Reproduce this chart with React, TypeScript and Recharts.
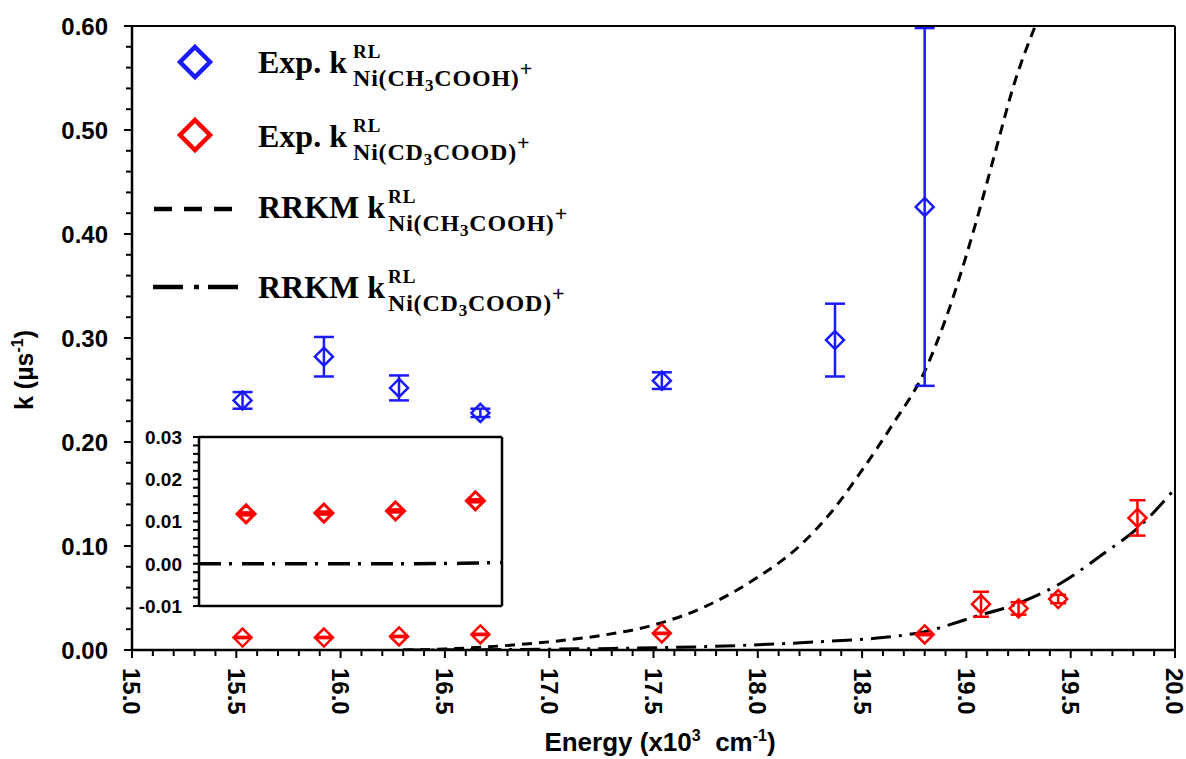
import React from 'react';
import { ComposedChart, Scatter, Line, XAxis, YAxis, ErrorBar } from 'recharts';

// Experimental k(RL) for Ni(CH3COOH)+
const expEnergyH = [15.53, 15.92, 16.28, 16.67, 17.54, 18.37, 18.8];
const expKH = [0.24, 0.282, 0.252, 0.228, 0.259, 0.298, 0.426];
const expErrH = [0.008, 0.019, 0.012, 0.004, 0.008, 0.035, 0.172];

// Experimental k(RL) for Ni(CD3COOD)+
const expEnergyD = [15.53, 15.92, 16.28, 16.67, 17.54, 18.8, 19.07, 19.25, 19.44, 19.82];
const expKD = [0.012, 0.012, 0.013, 0.015, 0.016, 0.015, 0.044, 0.04, 0.049, 0.127];
const expErrD = [0.0006, 0.0006, 0.0006, 0.0006, 0.0006, 0.0008, 0.012, 0.006, 0.004, 0.017];

// RRKM curves
const rrkmEnergyH = [16.3, 16.5, 16.7, 16.9, 17.1, 17.25, 17.5, 17.75, 18.0, 18.2, 18.35, 18.5, 18.65, 18.8, 18.9, 19.03, 19.14, 19.23, 19.33];
const rrkmKH = [0, 0.001, 0.003, 0.006, 0.01, 0.014, 0.024, 0.042, 0.07, 0.1, 0.132, 0.173, 0.218, 0.268, 0.318, 0.4, 0.48, 0.545, 0.6];
const rrkmEnergyD = [16.3, 16.8, 17.3, 17.7, 18.0, 18.3, 18.6, 18.8, 19.04, 19.25, 19.45, 19.66, 19.82, 20.0];
const rrkmKD = [0, 0.0005, 0.0015, 0.003, 0.005, 0.008, 0.012, 0.0176, 0.032, 0.045, 0.064, 0.093, 0.117, 0.155];

// Inset (zoom on the low-energy CD3COOD points)
const insetEnergy = [15.55, 15.93, 16.28, 16.67];
const insetK = [0.0118, 0.012, 0.0125, 0.0149];
const insetErr = [0.0003, 0.0003, 0.0003, 0.0003];
const insetCurveEnergy = [15.32, 15.8, 16.3, 16.6, 16.8];
const insetCurveK = [0, 0, 0, 0.0001, 0.0003];

// Axis ticks
const xTicks = Array.from({ length: 51 }, (_, i) => +(15 + i * 0.1).toFixed(1));
const yTicks = Array.from({ length: 31 }, (_, i) => +(i * 0.02).toFixed(2));
const insetYTicks = Array.from({ length: 21 }, (_, i) => +(-0.01 + i * 0.002).toFixed(3));

// Legend
const legendPrefix = ['Exp.', 'Exp.', 'RRKM', 'RRKM'];
const legendSpecies = [
  ['Ni(CH', '3', 'COOH)'],
  ['Ni(CD', '3', 'COOD)'],
  ['Ni(CH', '3', 'COOH)'],
  ['Ni(CD', '3', 'COOD)'],
];

const W = 1186;
const H = 759;
const BLUE = '#1a1aff';
const RED = '#ff0000';
const SANS = '"Liberation Sans", Arial, sans-serif';
const SERIF = '"Liberation Serif", "Times New Roman", serif';

const toPoints = (xs: number[], ys: number[], es?: number[]) =>
  xs.map((x, i) => ({ x, y: ys[i], err: es ? es[i] : 0 }));

const isMultiple = (v: number, step: number) => Math.abs(v / step - Math.round(v / step)) < 1e-6;

const Diamond = ({ cx, cy, color, r = 9, sw = 2.5 }: any) => (
  <path
    d={`M${cx},${cy - r}L${cx + r},${cy}L${cx},${cy + r}L${cx - r},${cy}Z`}
    fill="none"
    stroke={color}
    strokeWidth={sw}
  />
);

const XTick = (props: any) => {
  const { x, y, payload } = props;
  const major = isMultiple(payload.value, 0.5);
  return (
    <g>
      <line x1={x} y1={y} x2={x} y2={y + (major ? 8 : 6)} stroke="#000" strokeWidth={2} />
      {major && (
        <text
          transform={`translate(${x},${y + 18}) rotate(90)`}
          dy="0.358em"
          fontSize={24}
          fontWeight={700}
          fontFamily={SANS}
          fill="#000"
        >
          {payload.value.toFixed(1)}
        </text>
      )}
    </g>
  );
};

const YTick = (props: any) => {
  const { x, y, payload } = props;
  const major = isMultiple(payload.value, 0.1);
  return (
    <g>
      <line x1={x} y1={y} x2={x - (major ? 8 : 6)} y2={y} stroke="#000" strokeWidth={2} />
      {major && (
        <text x={x - 24} y={y} dy="0.358em" textAnchor="end" fontSize={24} fontWeight={700} fontFamily={SANS} fill="#000">
          {payload.value.toFixed(2)}
        </text>
      )}
    </g>
  );
};

const InsetYTick = (props: any) => {
  const { x, y, payload } = props;
  const major = isMultiple(payload.value, 0.01);
  return (
    <g>
      <line x1={x} y1={y} x2={x - 6} y2={y} stroke="#000" strokeWidth={2} />
      {major && (
        <text x={x - 17} y={y} dy="0.358em" textAnchor="end" fontSize={19} fontWeight={700} fontFamily={SANS} fill="#000">
          {payload.value.toFixed(2)}
        </text>
      )}
    </g>
  );
};

const Overlay = () => {
  const baselines = [73, 147, 218, 298];
  const kx = [353, 353, 388, 388];
  return (
    <svg width={W} height={H} style={{ position: 'absolute', left: 0, top: 0, pointerEvents: 'none' }}>
      {/* legend markers */}
      <Diamond cx={195} cy={62} r={15} sw={4.5} color={BLUE} />
      <Diamond cx={195} cy={135} r={15} sw={4.5} color={RED} />
      <line x1={154} y1={209} x2={232} y2={209} stroke="#000" strokeWidth={4.5} strokeDasharray="18 12" />
      <line x1={153} y1={287} x2={238} y2={287} stroke="#000" strokeWidth={4.5} strokeDasharray="30 11 5 9" />

      {/* legend labels */}
      {legendPrefix.map((p, i) => (
        <g key={i} fontFamily={SERIF} fontWeight={700} fill="#000">
          <text x={258} y={baselines[i]} fontSize={32}>{`${p} k`}</text>
          <text x={kx[i]} y={baselines[i] - 15} fontSize={19} letterSpacing={1}>RL</text>
          <text x={kx[i]} y={baselines[i] + 13} fontSize={24} letterSpacing={0.8}>
            {legendSpecies[i][0]}
            <tspan fontSize={17} dy={5}>{legendSpecies[i][1]}</tspan>
            <tspan fontSize={24} dy={-5}>{legendSpecies[i][2]}</tspan>
            <tspan fontSize={22} dy={-10}>+</tspan>
          </text>
        </g>
      ))}

      {/* axis titles */}
      <text x={660} y={751} textAnchor="middle" fontSize={26} fontWeight={700} fontFamily={SANS} style={{ whiteSpace: 'pre' }}>
        Energy (x10<tspan fontSize={16} dy={-10}>3</tspan>
        <tspan dy={10}>{'  cm'}</tspan>
        <tspan fontSize={16} dy={-10}>-1</tspan>
        <tspan dy={10}>)</tspan>
      </text>
      <text transform="translate(33,370) rotate(-90)" textAnchor="middle" fontSize={25} fontWeight={700} fontFamily={SANS}>
        k (µs<tspan fontSize={16} dy={-10}>-1</tspan>
        <tspan dy={10}>)</tspan>
      </text>
    </svg>
  );
};

export default function App() {
  const dataH = toPoints(expEnergyH, expKH, expErrH);
  const dataD = toPoints(expEnergyD, expKD, expErrD);
  const curveH = toPoints(rrkmEnergyH, rrkmKH);
  const curveD = toPoints(rrkmEnergyD, rrkmKD);
  const insetData = toPoints(insetEnergy, insetK, insetErr);
  const insetCurve = toPoints(insetCurveEnergy, insetCurveK);

  return (
    <div style={{ position: 'absolute', left: 0, top: 0, width: W, height: H, background: '#fff' }}>
      <ComposedChart width={W} height={H} margin={{ top: 25, right: 10, left: 62, bottom: 19 }} style={{ overflow: 'visible' }}>
        <XAxis
          xAxisId="main"
          type="number"
          dataKey="x"
          domain={[15, 20]}
          ticks={xTicks}
          interval={0}
          allowDataOverflow
          height={90}
          tickSize={0}
          tickMargin={0}
          tickLine={false}
          tick={<XTick />}
          axisLine={{ stroke: '#000', strokeWidth: 2.5 }}
        />
        <XAxis xAxisId="top" orientation="top" type="number" domain={[15, 20]} height={1} tick={false} tickLine={false} axisLine={{ stroke: '#000', strokeWidth: 2 }} />
        <YAxis
          yAxisId="main"
          type="number"
          dataKey="y"
          domain={[0, 0.6]}
          ticks={yTicks}
          interval={0}
          allowDataOverflow
          width={70}
          tickSize={0}
          tickMargin={0}
          tickLine={false}
          tick={<YTick />}
          axisLine={{ stroke: '#000', strokeWidth: 2.5 }}
        />
        <YAxis yAxisId="right" orientation="right" type="number" domain={[0, 0.6]} width={1} tick={false} tickLine={false} axisLine={{ stroke: '#000', strokeWidth: 2 }} />

        <Line
          xAxisId="main"
          yAxisId="main"
          data={curveH}
          dataKey="y"
          type="monotone"
          dot={false}
          stroke="#000"
          strokeWidth={3}
          strokeDasharray="10 7"
          isAnimationActive={false}
        />
        <Line
          xAxisId="main"
          yAxisId="main"
          data={curveD}
          dataKey="y"
          type="monotone"
          dot={false}
          stroke="#000"
          strokeWidth={3}
          strokeDasharray="20 8 3 8"
          isAnimationActive={false}
        />
        <Scatter
          xAxisId="main"
          yAxisId="main"
          data={dataH}
          dataKey="y"
          isAnimationActive={false}
          shape={(p: any) => <Diamond cx={p.cx} cy={p.cy} color={BLUE} />}
        >
          <ErrorBar dataKey="err" direction="y" width={10} strokeWidth={2.5} stroke={BLUE} />
        </Scatter>
        <Scatter
          xAxisId="main"
          yAxisId="main"
          data={dataD}
          dataKey="y"
          isAnimationActive={false}
          shape={(p: any) => <Diamond cx={p.cx} cy={p.cy} color={RED} />}
        >
          <ErrorBar dataKey="err" direction="y" width={8} strokeWidth={2.5} stroke={RED} />
        </Scatter>
      </ComposedChart>

      {/* inset */}
      <div style={{ position: 'absolute', left: 110, top: 427 }}>
        <ComposedChart width={400} height={190} margin={{ top: 9, right: 7, left: 0, bottom: 10 }}>
          <XAxis xAxisId="b" type="number" dataKey="x" domain={[15.32, 16.8]} allowDataOverflow height={1} tick={false} tickLine={false} axisLine={{ stroke: '#000', strokeWidth: 2.5 }} />
          <XAxis xAxisId="t" orientation="top" type="number" domain={[15.32, 16.8]} height={1} tick={false} tickLine={false} axisLine={{ stroke: '#000', strokeWidth: 2.5 }} />
          <YAxis
            yAxisId="l"
            type="number"
            dataKey="y"
            domain={[-0.01, 0.03]}
            ticks={insetYTicks}
            interval={0}
            allowDataOverflow
            width={89}
            tickSize={0}
            tickMargin={0}
            tickLine={false}
            tick={<InsetYTick />}
            axisLine={{ stroke: '#000', strokeWidth: 2.5 }}
          />
          <YAxis yAxisId="r" orientation="right" type="number" domain={[-0.01, 0.03]} width={1} tick={false} tickLine={false} axisLine={{ stroke: '#000', strokeWidth: 2.5 }} />
          <Line
            xAxisId="b"
            yAxisId="l"
            data={insetCurve}
            dataKey="y"
            type="monotone"
            dot={false}
            stroke="#000"
            strokeWidth={3.5}
            strokeDasharray="22 8 3 10"
            isAnimationActive={false}
          />
          <Scatter
            xAxisId="b"
            yAxisId="l"
            data={insetData}
            dataKey="y"
            isAnimationActive={false}
            shape={(p: any) => <Diamond cx={p.cx} cy={p.cy} color={RED} sw={3} />}
          >
            <ErrorBar dataKey="err" direction="y" width={7} strokeWidth={3} stroke={RED} />
          </Scatter>
        </ComposedChart>
      </div>

      <Overlay />
    </div>
  );
}
